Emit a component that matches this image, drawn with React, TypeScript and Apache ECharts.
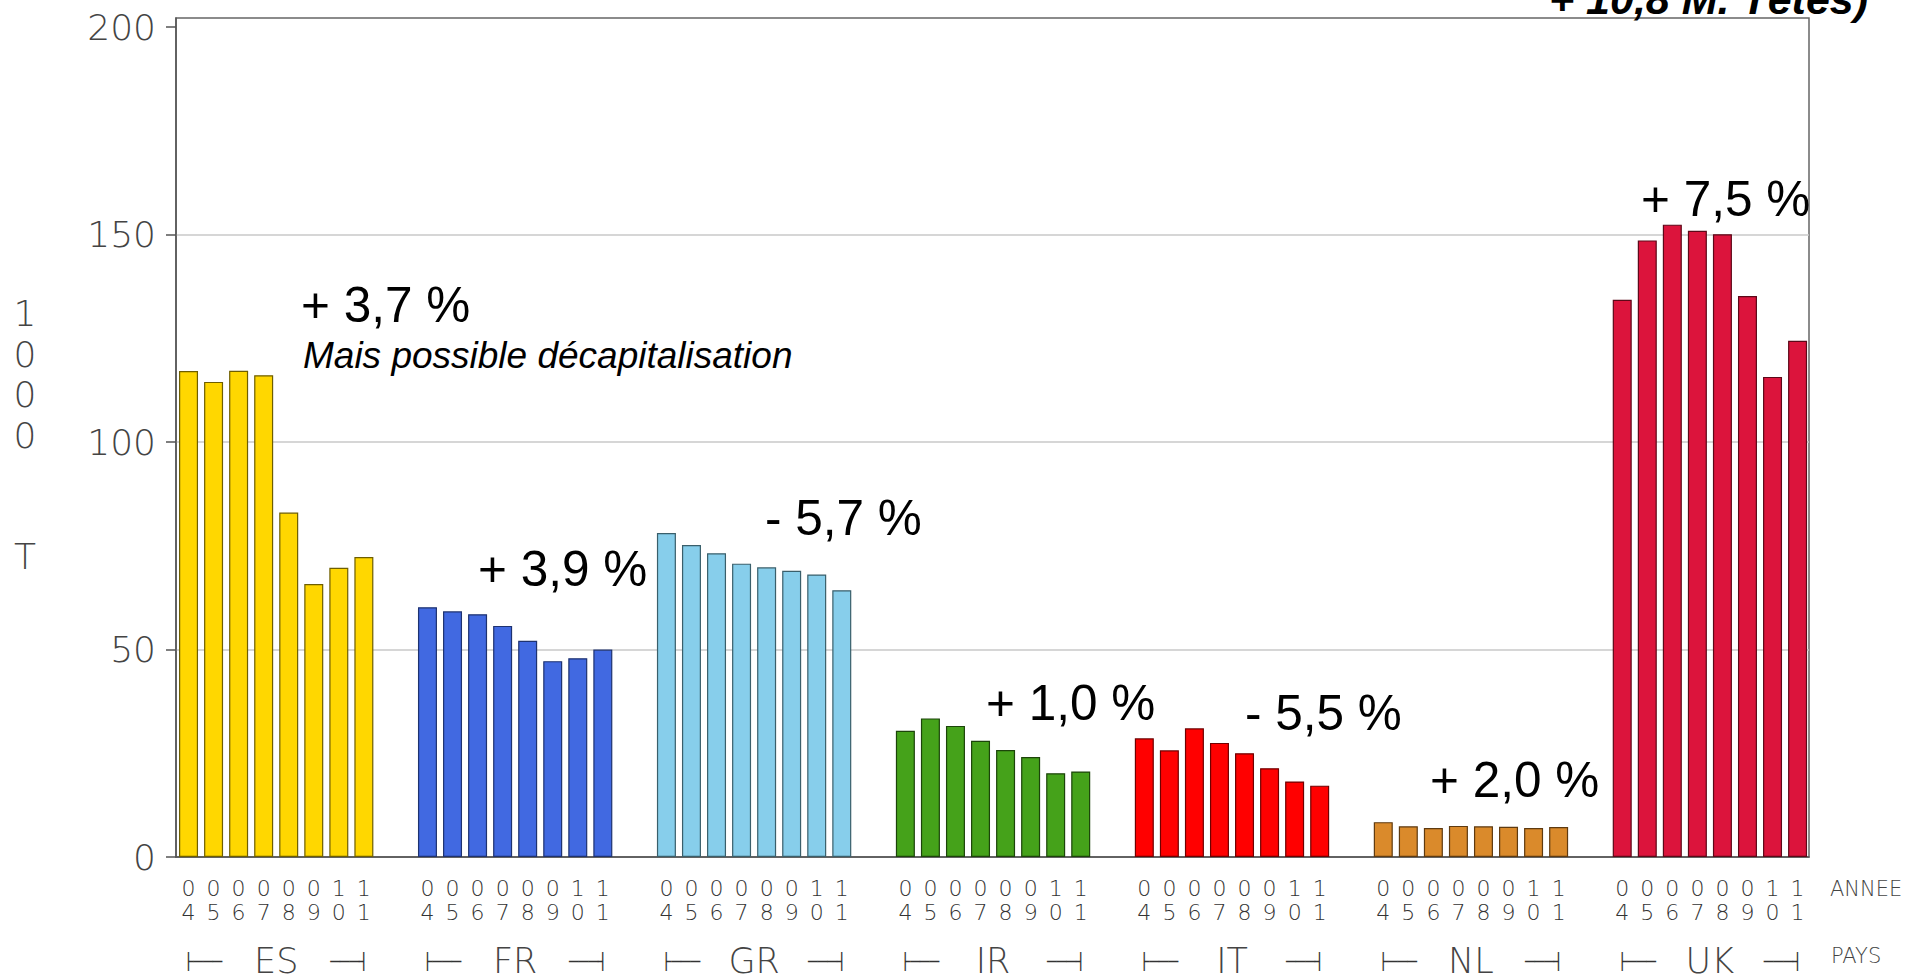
import React, { useEffect, useRef } from 'react';
import * as echarts from 'echarts';

// ---- data ----
const COUNTRIES = ['ES', 'FR', 'GR', 'IR', 'IT', 'NL', 'UK'];
const YEARS = ['04', '05', '06', '07', '08', '09', '10', '11'];
const ES = [117.1, 114.5, 117.2, 116.1, 83.0, 65.8, 69.7, 72.3];
const FR = [60.2, 59.2, 58.5, 55.7, 52.1, 47.2, 47.9, 50.0];
const GR = [78.1, 75.2, 73.2, 70.7, 69.8, 69.0, 68.1, 64.3];
const IR = [30.4, 33.4, 31.6, 28.0, 25.8, 24.1, 20.2, 20.6];
const IT = [28.6, 25.7, 31.0, 27.5, 25.0, 21.4, 18.2, 17.2];
const NL = [8.4, 7.4, 7.0, 7.5, 7.4, 7.3, 7.0, 7.2];
const UK = [134.3, 148.6, 152.4, 150.9, 150.1, 135.2, 115.7, 124.4];
const CHANGES = ['+ 3,7 %', '+ 3,9 %', '- 5,7 %', '+ 1,0 %', '- 5,5 %', '+ 2,0 %', '+ 7,5 %'];
const NOTE = 'Mais possible décapitalisation';
const TITLE_TAIL = '+ 10,8 M. Têtes)';
const Y_TICKS = [0, 50, 100, 150, 200];
const GRID_VALUES = [50, 100, 150];
const Y_NAME = ['1', '0', '0', '0', '', '', 'T'];
const X_NAME_YEAR = 'ANNEE';
const X_NAME_COUNTRY = 'PAYS';

// ---- layout / style ----
const VALUES = [ES, FR, GR, IR, IT, NL, UK];
const COLORS = ['#FFD700', '#4169E1', '#87CEEB', '#45A21A', '#FF0000', '#DA8A2B', '#DC143C'];
const BORDERS = ['#6E5E00', '#1E3270', '#3A5F6B', '#1C440A', '#700000', '#5E3A10', '#5C0818'];
const GROUP_STEP = 9.539;
const X_MAX = 65.19;
const Y_MAX = 202.2;
const CHANGE_POS = [
  [301, 304],
  [478, 568],
  [765, 517],
  [986, 702],
  [1245, 712],
  [1430, 779],
  [1641, 198],
];

const LIGHT = 'DejaVu Sans';
const AXIS_COLOR = '#444';

export default function App() {
  const ref = useRef<HTMLDivElement>(null);

  useEffect(() => {
    if (!ref.current) return;
    const chart = echarts.init(ref.current, null, { renderer: 'svg' });

    const barData: any[] = [];
    const yearPositions: number[] = [];
    VALUES.forEach((vals, g) => {
      vals.forEach((v, i) => {
        const x = g * GROUP_STEP + i + 0.5;
        yearPositions.push(x);
        barData.push({
          value: [x, v],
          itemStyle: { color: COLORS[g], borderColor: BORDERS[g], borderWidth: 1.2 },
        });
      });
    });
    const countryPositions = COUNTRIES.map((_, g) => g * GROUP_STEP + 4);

    const yearFormatter = (val: number) => {
      const g = Math.min(COUNTRIES.length - 1, Math.floor(val / GROUP_STEP));
      const i = Math.round(val - g * GROUP_STEP - 0.5);
      const y = YEARS[i] || '';
      return y.split('').join('\n');
    };
    const countryFormatter = (val: number) => {
      const g = Math.round((val - 4) / GROUP_STEP);
      return `{l|├───}{t|${COUNTRIES[g]}}{r|───┤}`;
    };

    const graphics: any[] = [];
    CHANGES.forEach((txt, k) => {
      graphics.push({
        type: 'text',
        x: CHANGE_POS[k][0],
        y: CHANGE_POS[k][1],
        style: {
          text: txt,
          fontFamily: 'Liberation Sans',
          fontSize: 49.5,
          fill: '#000',
          textAlign: 'left',
          textVerticalAlign: 'middle',
        },
      });
    });
    graphics.push({
      type: 'text',
      x: 303,
      y: 355,
      style: {
        text: NOTE,
        fontFamily: 'Liberation Sans',
        fontStyle: 'italic',
        fontSize: 37,
        fill: '#000',
        textAlign: 'left',
        textVerticalAlign: 'middle',
      },
    });
    graphics.push({
      type: 'text',
      x: 1549,
      y: -1.5,
      style: {
        text: TITLE_TAIL,
        fontFamily: 'Liberation Sans',
        fontStyle: 'italic',
        fontWeight: 'bold',
        fontSize: 43,
        fill: '#000',
        textAlign: 'left',
        textVerticalAlign: 'middle',
      },
    });
    graphics.push({
      type: 'text',
      x: 25,
      y: 293.5,
      style: {
        text: Y_NAME.join('\n'),
        fontFamily: LIGHT,
        fontWeight: 200,
        fontSize: 36,
        lineHeight: 40.5,
        fill: AXIS_COLOR,
        textAlign: 'center',
        textVerticalAlign: 'top',
      },
    });
    graphics.push({
      type: 'text',
      x: 1830,
      y: 889,
      style: {
        text: X_NAME_YEAR,
        fontFamily: LIGHT,
        fontWeight: 200,
        fontSize: 21,
        fill: AXIS_COLOR,
        textAlign: 'left',
        textVerticalAlign: 'middle',
      },
    });
    graphics.push({
      type: 'text',
      x: 1831,
      y: 956,
      style: {
        text: X_NAME_COUNTRY,
        fontFamily: LIGHT,
        fontWeight: 200,
        fontSize: 21,
        fill: AXIS_COLOR,
        textAlign: 'left',
        textVerticalAlign: 'middle',
      },
    });

    const option: any = {
      animation: false,
      backgroundColor: '#fff',
      grid: {
        left: 176,
        right: 99,
        top: 18,
        bottom: 121,
        containLabel: false,
        outerBoundsMode: 'none',
        show: true,
        borderColor: '#666',
        borderWidth: 1.5,
        backgroundColor: 'transparent',
      },
      xAxis: [
        {
          type: 'value',
          min: 0,
          max: X_MAX,
          position: 'bottom',
          axisLine: { show: true, onZero: true, lineStyle: { color: '#555', width: 1.5 } },
          axisTick: { show: false },
          splitLine: { show: false },
          axisLabel: {
            customValues: yearPositions,
            formatter: yearFormatter,
            margin: 19,
            fontFamily: LIGHT,
            fontWeight: 200,
            fontSize: 22,
            lineHeight: 24.5,
            color: '#333',
            showMinLabel: true,
            showMaxLabel: true,
          },
        },
        {
          type: 'value',
          min: 0,
          max: X_MAX,
          position: 'bottom',
          axisLine: { show: false },
          axisTick: { show: false },
          splitLine: { show: false },
          axisLabel: {
            customValues: countryPositions,
            formatter: countryFormatter,
            margin: 89,
            color: '#333',
            rich: {
              l: {
                fontFamily: 'DejaVu Sans Mono',
                fontSize: 16,
                width: 50,
                align: 'left',
                lineHeight: 30,
                color: '#333',
              },
              t: {
                fontFamily: LIGHT,
                fontWeight: 200,
                fontSize: 35,
                width: 85,
                align: 'center',
                lineHeight: 30,
                color: AXIS_COLOR,
              },
              r: {
                fontFamily: 'DejaVu Sans Mono',
                fontSize: 16,
                width: 50,
                align: 'right',
                lineHeight: 30,
                color: '#333',
              },
            },
          },
        },
      ],
      yAxis: [
        {
          type: 'value',
          min: 0,
          max: Y_MAX,
          position: 'left',
          axisLine: { show: true, lineStyle: { color: '#555', width: 1.5 } },
          axisTick: {
            show: true,
            length: 10,
            inside: false,
            customValues: Y_TICKS,
            lineStyle: { color: '#555', width: 1.5 },
          },
          splitLine: { show: false },
          axisLabel: {
            customValues: Y_TICKS,
            margin: 20,
            fontFamily: LIGHT,
            fontWeight: 200,
            fontSize: 36,
            color: AXIS_COLOR,
          },
        },
        {
          type: 'value',
          min: 0,
          max: Y_MAX,
          position: 'left',
          axisLine: { show: false },
          axisTick: { show: false, customValues: GRID_VALUES },
          axisLabel: { show: false },
          splitLine: { show: true, lineStyle: { color: '#c8c8c8', width: 1.5 } },
        },
      ],
      series: [
        {
          type: 'bar',
          xAxisIndex: 0,
          yAxisIndex: 0,
          barWidth: 19,
          data: barData,
        },
      ],
      graphic: graphics,
    };

    chart.setOption(option);
    return () => chart.dispose();
  }, []);

  return (
    <div
      ref={ref}
      style={{ position: 'absolute', left: 0, top: 0, width: 1908, height: 978 }}
    />
  );
}
